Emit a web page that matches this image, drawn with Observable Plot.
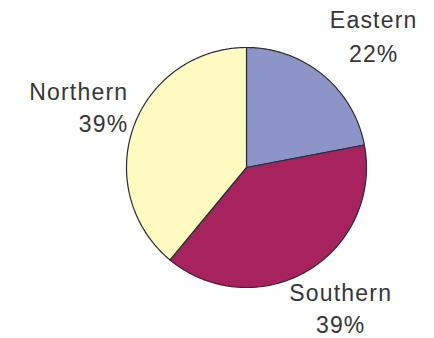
<!DOCTYPE html>
<html>
<head>
<meta charset="utf-8">
<script src="https://cdn.jsdelivr.net/npm/d3@7"></script>
<script src="https://cdn.jsdelivr.net/npm/@observablehq/plot@0.6"></script>
<style>
  html, body { margin: 0; padding: 0; background: #fff; }
  #chart svg { display: block; overflow: visible; }
</style>
</head>
<body>
<div id="chart"></div>
<script>
// Data
const regions = ["Eastern", "Southern", "Northern"];
const shares = [22, 39, 39];
const percentLabels = ["22%", "39%", "39%"];
const sliceColors = ["#8d94c8", "#a6235d", "#fffbc0"];

// Label placement (data units relative to pie radius), kept separate from the data
const labelPlacement = {
  Eastern:  {x: 1.06,  y1: 1.222, y2: 0.94,  anchor: "middle"},
  Southern: {x: 0.785, y1: -1.055, y2: -1.315, anchor: "middle"},
  Northern: {x: -0.985, y1: 0.622, y2: 0.356, anchor: "end"}
};

// Build slice polygons from the shares (clockwise from 12 o'clock)
const total = d3.sum(shares);
const pts = [];
let acc = 0;
regions.forEach((name, i) => {
  const a0 = acc / total * 2 * Math.PI;
  acc += shares[i];
  const a1 = acc / total * 2 * Math.PI;
  pts.push({name, x: 0, y: 0});
  const n = Math.max(2, Math.ceil((a1 - a0) / (Math.PI / 360)));
  for (let k = 0; k <= n; k++) {
    const a = a0 + (a1 - a0) * k / n;
    pts.push({name, x: Math.sin(a), y: Math.cos(a)});
  }
  pts.push({name, x: 0, y: 0});
});

const labels = [];
regions.forEach((name, i) => {
  const p = labelPlacement[name];
  labels.push({text: name, x: p.x, y: p.y1, anchor: p.anchor});
  labels.push({text: percentLabels[i], x: p.x, y: p.y2, anchor: p.anchor});
});

const chart = Plot.plot({
  width: 434,
  height: 338,
  marginLeft: 126,
  marginRight: 68,
  marginTop: 47,
  marginBottom: 51,
  x: {domain: [-1, 1], axis: null},
  y: {domain: [-1, 1], axis: null},
  color: {domain: regions, range: sliceColors},
  style: {fontFamily: "'Liberation Sans', Arial, sans-serif", background: "#fff"},
  marks: [
    Plot.line(pts, {x: "x", y: "y", z: "name", fill: "name", stroke: "#2b2b3a", strokeWidth: 1.2, strokeLinejoin: "round", curve: "linear"}),
    Plot.text(labels.filter(d => d.anchor === "middle"), {x: "x", y: "y", text: "text", textAnchor: "middle", fontSize: 23, fill: "#363636"}),
    Plot.text(labels.filter(d => d.anchor === "end"), {x: "x", y: "y", text: "text", textAnchor: "end", fontSize: 23, fill: "#363636"})
  ]
});
chart.querySelectorAll("text").forEach(t => t.setAttribute("letter-spacing", "1.2"));
document.getElementById("chart").appendChild(chart);
</script>
</body>
</html>
